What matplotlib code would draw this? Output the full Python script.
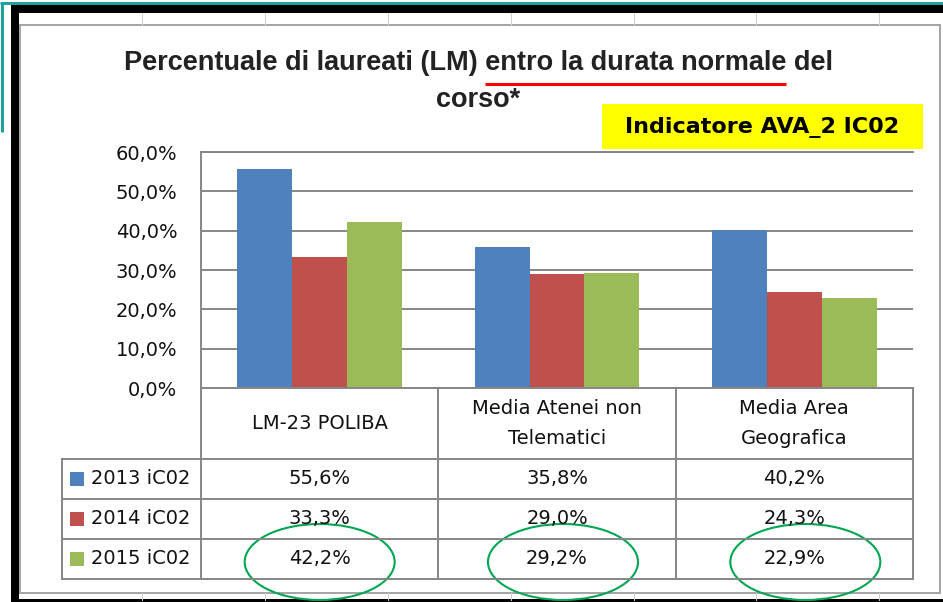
import numpy as np
import matplotlib
matplotlib.use("Agg")
import matplotlib.pyplot as plt
from matplotlib.patches import Rectangle, Ellipse
from matplotlib.ticker import FuncFormatter

# data (percent)
categories = ["LM-23 POLIBA", "Media Atenei non\nTelematici", "Media Area\nGeografica"]
series = ["2013 iC02", "2014 iC02", "2015 iC02"]
v2013 = [55.6, 35.8, 40.2]
v2014 = [33.3, 29.0, 24.3]
v2015 = [42.2, 29.2, 22.9]
values = [v2013, v2014, v2015]
colors = ["#4F81BD", "#C0504D", "#9BBB59"]

title1 = "Percentuale di laureati (LM) entro la durata normale del"
title2 = "corso*"
underlined = "entro la durata normale"
badge = "Indicatore AVA_2 IC02"

W, H = 943, 602
PX = 0.72  # one pixel in points
GRID = "#868686"

fig = plt.figure(figsize=(W / 100, H / 100), dpi=100)
fig.patch.set_facecolor("white")


def px_axes(x0, y0, x1, y1, **kw):
    return fig.add_axes([x0 / W, 1 - y1 / H, (x1 - x0) / W, (y1 - y0) / H], **kw)


# background: frame, sheet grid, chart border
bg = fig.add_axes([0, 0, 1, 1], zorder=0)
bg.set_xlim(0, W)
bg.set_ylim(H, 0)
bg.axis("off")
for gx in [142, 265, 388, 511, 634, 756, 879]:
    bg.plot([gx, gx], [13, 25], color="#D0D0D0", lw=PX)
    bg.plot([gx, gx], [593, 600], color="#D0D0D0", lw=PX)
bg.add_patch(Rectangle((20, 25), 920, 568, facecolor="white", edgecolor="#A6A6A6", lw=2 * PX))
bg.add_patch(Rectangle((11, 5), W - 11, 8, facecolor="black", edgecolor="none"))
bg.add_patch(Rectangle((11, 5), 8, H - 5, facecolor="black", edgecolor="none"))
bg.add_patch(Rectangle((11, 599), W - 11, 3, facecolor="black", edgecolor="none"))
bg.plot([0, W], [3, 3], color="#1BA39C", lw=3 * PX, solid_capstyle="butt")
bg.plot([1.5, 1.5], [2, 132], color="#1BA39C", lw=3 * PX, solid_capstyle="butt")

# bar chart
plot_x0, plot_x1, plot_y0, plot_y1 = 201, 913, 152, 388
ax = px_axes(plot_x0, plot_y0, plot_x1, plot_y1, zorder=1)
ax.set_facecolor("none")
x = np.arange(len(categories))
bw = 0.231
for i, (vals, col) in enumerate(zip(values, colors)):
    ax.bar(x + (i - 1) * bw, vals, bw, color=col, zorder=2)
ax.set_xlim(-0.5, len(categories) - 0.5)
ax.set_ylim(0, 60)
ax.set_yticks(np.arange(0, 61, 10))
ax.yaxis.set_major_formatter(FuncFormatter(lambda v, p: f"{v:.1f}%".replace(".", ",")))
ax.set_xticks([])
ax.yaxis.grid(True, color=GRID, lw=1.4)
ax.set_axisbelow(True)
for side in ["left", "top"]:
    ax.spines[side].set_color(GRID)
    ax.spines[side].set_linewidth(1.4)
ax.spines["right"].set_visible(False)
ax.spines["bottom"].set_visible(False)
ax.tick_params(axis="y", length=0, pad=17, labelsize=14, labelcolor="#111111")

# overlay: table, title, annotations
ov = fig.add_axes([0, 0, 1, 1], zorder=2)
ov.set_facecolor("none")
ov.set_xlim(0, W)
ov.set_ylim(H, 0)
ov.axis("off")

col_w = (plot_x1 - plot_x0) / len(categories)
col_edges = [plot_x0 + k * col_w for k in range(len(categories) + 1)]
col_mid = [plot_x0 + (k + 0.5) * col_w for k in range(len(categories))]
row_edges = [plot_y1, 459, 499, 539, 579]
leg_x0 = 62
lw_t = 1.4

ov.plot([plot_x0, plot_x1], [plot_y1, plot_y1], color=GRID, lw=lw_t)
for ry in row_edges[1:]:
    ov.plot([leg_x0, plot_x1], [ry, ry], color=GRID, lw=lw_t)
for cx in col_edges:
    ov.plot([cx, cx], [plot_y1, row_edges[-1]], color=GRID, lw=lw_t)
ov.plot([leg_x0, leg_x0], [row_edges[1], row_edges[-1]], color=GRID, lw=lw_t)

tfont = dict(fontsize=14, family="DejaVu Sans", color="#111111")
hy = (row_edges[0] + row_edges[1]) / 2
for cx, cat in zip(col_mid, categories):
    ov.text(cx, hy, cat, ha="center", va="center", linespacing=1.7, **tfont)
for r, (name, vals, col) in enumerate(zip(series, values, colors)):
    ry = (row_edges[r + 1] + row_edges[r + 2]) / 2
    ov.add_patch(Rectangle((leg_x0 + 8, ry - 7), 14, 14, facecolor=col, edgecolor="none"))
    ov.text(leg_x0 + 29, ry, name, ha="left", va="center", **tfont)
    for cx, v in zip(col_mid, vals):
        ov.text(cx, ry, f"{v:.1f}%".replace(".", ","), ha="center", va="center", **tfont)

# title with red underline
title_font = dict(fontsize=19.5, fontweight="bold", family="Liberation Sans", color="#222222")
tx = 478
t1 = ov.text(tx, 63, title1, ha="center", va="center", **title_font)
ov.text(tx, 100, title2, ha="center", va="center", **title_font)
renderer = fig.canvas.get_renderer()


def text_width(s):
    tmp = ov.text(0, 0, s, **title_font)
    w = tmp.get_window_extent(renderer).width
    tmp.remove()
    return w


left = t1.get_window_extent(renderer).x0
head = title1[: title1.index(underlined) + len(underlined)]
u_end = left + text_width(head)
u_start = u_end - text_width(underlined)
ov.plot([u_start, u_end], [84, 84], color="#FF0000", lw=2.2, solid_capstyle="butt")

# yellow badge
ov.add_patch(Rectangle((602, 104), 321, 45, facecolor="#FFFF00", edgecolor="none"))
ov.text(762, 127, badge, ha="center", va="center", fontsize=16, fontweight="bold",
        family="DejaVu Sans", color="black")

# green ellipses around 2015 values
for cx, dx in zip(col_mid, [0, 6, 11]):
    ov.add_patch(Ellipse((cx + dx, 562), 150, 76, fill=False, edgecolor="#00A651", lw=1.5))

fig.savefig("out.png", dpi=100)
